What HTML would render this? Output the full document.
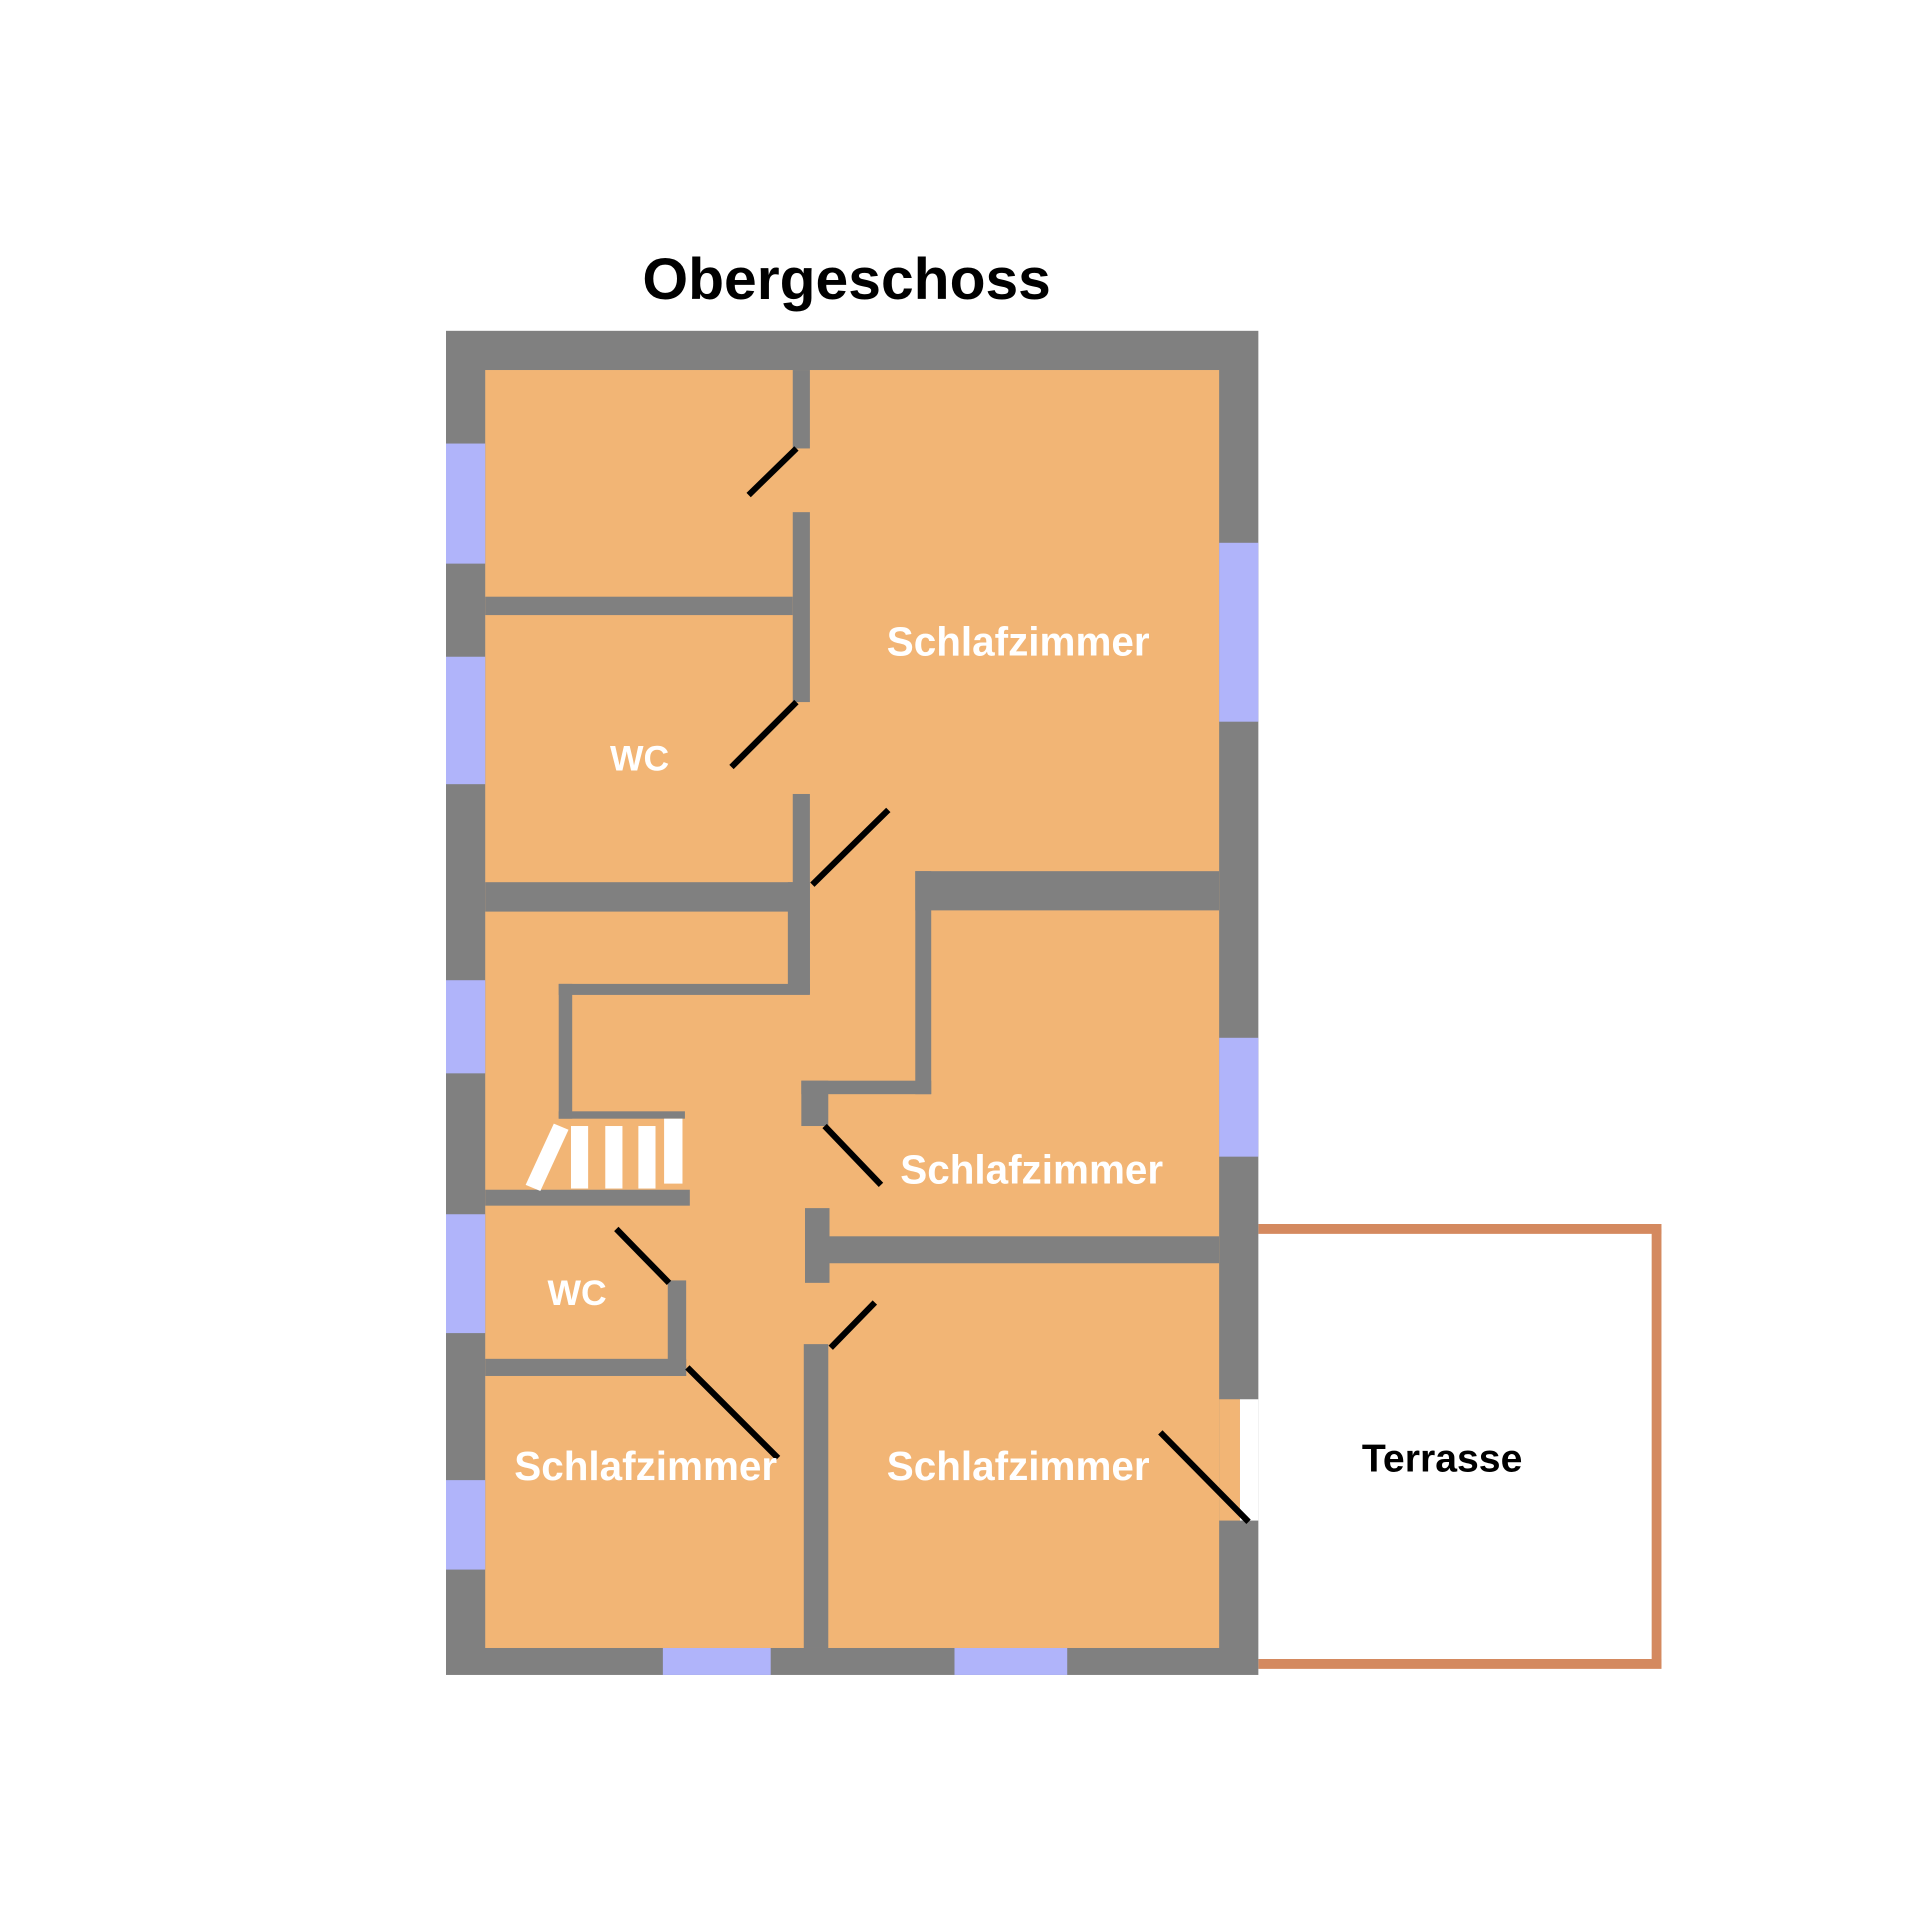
<!DOCTYPE html>
<html><head><meta charset="utf-8"><style>html,body{margin:0;padding:0;background:#fff}svg{display:block}</style></head>
<body>
<svg width="1920" height="1920" viewBox="0 0 1567 1567" xmlns="http://www.w3.org/2000/svg">
<rect width="1567" height="1567" fill="#fff"/>
<!-- terrace -->
<g stroke="#D4895F" stroke-width="8" fill="none">
<line x1="1027" y1="1003" x2="1356" y2="1003"/>
<line x1="1352" y1="1003" x2="1352" y2="1361"/>
<line x1="1027" y1="1358" x2="1356" y2="1358"/>
</g>
<!-- outer -->
<rect x="364" y="270" width="663" height="1097" fill="#808080"/>
<rect x="396" y="302" width="599" height="1043" fill="#F2B575"/>
<rect x="995" y="1142" width="17" height="99" fill="#F2B575"/>
<rect x="1012" y="1142" width="15" height="99" fill="#fff"/>
<!-- windows -->
<g fill="#B0B4FA">
<rect x="364" y="362" width="32" height="98"/>
<rect x="364" y="536" width="32" height="104"/>
<rect x="364" y="800" width="32" height="76"/>
<rect x="364" y="991" width="32" height="97"/>
<rect x="364" y="1208" width="32" height="73"/>
<rect x="995" y="443" width="32" height="146"/>
<rect x="995" y="847" width="32" height="97"/>
<rect x="541" y="1345" width="88" height="22"/>
<rect x="779" y="1345" width="92" height="22"/>
</g>
<!-- interior walls -->
<g fill="#808080">
<rect x="647" y="302" width="14" height="64"/>
<rect x="647" y="418" width="14" height="155"/>
<rect x="647" y="648" width="14" height="163"/>
<rect x="396" y="487" width="251" height="15"/>
<rect x="396" y="720" width="251" height="24"/>
<rect x="643" y="720" width="18" height="91"/>
<rect x="456" y="803" width="205" height="9"/>
<rect x="456" y="803" width="11" height="110"/>
<rect x="456" y="907" width="103" height="6"/>
<rect x="396" y="971" width="167" height="13"/>
<rect x="747" y="711" width="248" height="32"/>
<rect x="747" y="711" width="13" height="182"/>
<rect x="654" y="882" width="106" height="11"/>
<rect x="654" y="882" width="22" height="37"/>
<rect x="657" y="986" width="20" height="61"/>
<rect x="657" y="1009" width="338" height="22"/>
<rect x="656" y="1097" width="20" height="248"/>
<rect x="545" y="1045" width="15" height="78"/>
<rect x="396" y="1109" width="164" height="14"/>
</g>
<!-- stairs -->
<g fill="#fff">
<polygon points="429,967 441,972 464,922 452,917"/>
<rect x="466" y="919" width="14" height="51"/>
<rect x="494" y="919" width="14" height="51"/>
<rect x="521" y="919" width="14" height="51"/>
<rect x="542" y="913" width="15" height="53"/>
</g>
<!-- doors -->
<g stroke="#000" stroke-width="5">
<line x1="611" y1="404" x2="650" y2="366"/>
<line x1="597" y1="626" x2="650" y2="573"/>
<line x1="663" y1="722" x2="725" y2="661"/>
<line x1="673" y1="919" x2="719" y2="967"/>
<line x1="503" y1="1003" x2="546" y2="1047"/>
<line x1="561" y1="1116" x2="635" y2="1190"/>
<line x1="678" y1="1100" x2="714" y2="1063"/>
<line x1="947" y1="1169" x2="1019" y2="1242"/>
</g>
<!-- text -->
<g font-family="Liberation Sans, sans-serif" font-weight="bold" text-anchor="middle">
<text x="691" y="244" font-size="48" fill="#000">Obergeschoss</text>
<g fill="#fff" font-size="33">
<text x="831" y="535">Schlafzimmer</text>
<text x="842" y="966">Schlafzimmer</text>
<text x="527" y="1208">Schlafzimmer</text>
<text x="831" y="1208">Schlafzimmer</text>
<text x="522" y="629" font-size="29">WC</text>
<text x="471" y="1065" font-size="29">WC</text>
</g>
<text x="1177" y="1201" font-size="32" fill="#000">Terrasse</text>
</g>
</svg>
</body></html>
